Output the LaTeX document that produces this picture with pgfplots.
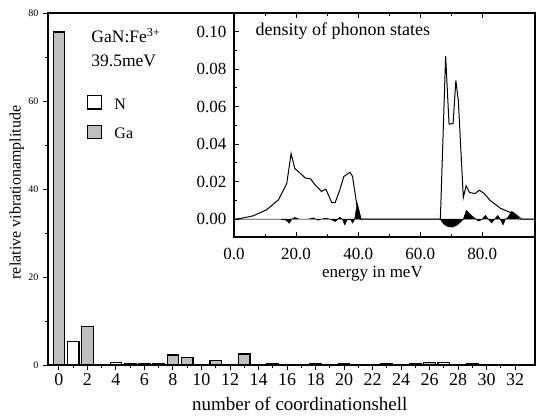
\documentclass[border=0pt]{standalone}
\usepackage{fontspec}
\setmainfont{Liberation Serif}
\usepackage{pgfplots}
\pgfplotsset{compat=1.18}
\newcommand\fsX{\fontsize{19}{22}\selectfont}
\newcommand\fsT{\fontsize{18}{21}\selectfont}
\newcommand\fsA{\fontsize{17.5}{20}\selectfont}
\newcommand\fsB{\fontsize{16}{19}\selectfont}
\newcommand\fsI{\fontsize{17}{20}\selectfont}
\newcommand\fsS{\fontsize{10}{12}\selectfont}
\begin{document}
\begin{tikzpicture}
\useasboundingbox (-48pt,-50pt) rectangle (492pt,365pt);
\begin{axis}[
  at={(0pt,0pt)}, anchor=south west,
  scale only axis, width=487pt, height=352pt,
  xmin=-0.77, xmax=33.4, ymin=0, ymax=80,
  axis line style={line width=1.2pt},
  every tick/.style={black, line width=1pt},
  tick align=outside, major tick length=5pt, minor tick length=3pt,
  xtick={0,2,...,32}, minor x tick num=1,
  ytick={0,20,...,80}, minor y tick num=1,
  xtick pos=left, ytick pos=left,
  /pgf/number format/assume math mode=true,
  x tick label style={font=\fsT},
  y tick label style={font=\fsS, xshift=-1pt},
  xlabel={number of coordinationshell},
  ylabel={relative vibrationamplitude},
  xlabel style={font=\fsX, at={(axis description cs:0.517,-0.111)}, anchor=center},
  ylabel style={font=\fsB, at={(axis description cs:-0.064,0.49)}, anchor=center},
  ybar, bar width=11.4pt, bar shift=0pt,
  legend image code/.code={\draw[#1, line width=1.3pt] (0pt,-4.5pt) rectangle (14pt,9pt);},
  legend style={draw=none, fill=none, font=\fsB, at={(rel axis cs:0.08,0.768)}, anchor=north west, inner sep=0pt, row sep=12pt, column sep=10pt},
  legend cell align=left,
]
\addplot[draw=black, fill=white, line width=1.3pt] coordinates {
(1,5.3) (3,0.1) (4,0.6) (6,0.2) (7,0.3) (10,0.1) (12,0.1) (14,0.15) (16,0.15) (17,0.1) (19,0.15) (21,0.15) (22,0.1) (24,0.15) (25,0.2) (27,0.5) (28,0.15) (30,0.15) (31,0.1) (33,0.1)};
\addlegendentry{N}
\addplot[draw=black, fill=black!25, line width=1.3pt] coordinates {
(0,75.7) (2,8.7) (5,0.4) (8,2.3) (9,1.7) (11,1.1) (13,2.5) (15,0.2) (18,0.2) (20,0.25) (23,0.2) (26,0.6) (29,0.2) (32,0.15)};
\addlegendentry{Ga}
\node[font=\fsA, anchor=west] at (rel axis cs:0.082,0.935) {GaN:Fe\textsuperscript{3+}};
\node[font=\fsA, anchor=west] at (rel axis cs:0.082,0.864) {39.5meV};
\end{axis}
\begin{axis}[
  at={(186pt,128pt)}, anchor=south west,
  scale only axis, width=301pt, height=224pt,
  xmin=0, xmax=97, ymin=-0.0095, ymax=0.110,
  axis background/.style={fill=white},
  axis line style={line width=1.2pt},
  every tick/.style={black, line width=1pt},
  tick align=inside, major tick length=5pt, minor tick length=3pt,
  xtick={0,20,...,80}, minor x tick num=1,
  ytick={0,0.02,...,0.1}, minor y tick num=1,
  xtick pos=both, ytick pos=left,
  /pgf/number format/assume math mode=true,
  xticklabel style={font=\fsI, yshift=-8pt, /pgf/number format/.cd, fixed, fixed zerofill, precision=1},
  yticklabel style={font=\fsI, xshift=-4pt, /pgf/number format/.cd, fixed, fixed zerofill, precision=2},
  scaled y ticks=false,
  xlabel={energy in meV},
  xlabel style={font=\fsI, at={(axis description cs:0.46,-0.163)}, anchor=center},
]
\addplot[fill=black, draw=black, line width=0.6pt] coordinates {
(0,0) (15,0) (16.8,-0.0005) (17.8,-0.0021) (18.6,0) (19.6,0.0009) (21,0) (24,0) (25.6,0.0007) (26.4,0) (27.2,-0.0005) (28,0) (29.6,0.0005) (31,0) (32.6,-0.0012) (33.4,0) (34.1,0.001) (34.9,0) (35.7,-0.003) (36.5,0) (37.1,-0.0004) (37.6,0) (38.2,-0.002) (38.9,0) (39.7,0.0085) (41,0)
(66.5,0) (67.5,-0.0025) (69,-0.004) (70.5,-0.0042) (72,-0.003) (73.9,0) (74.9,0.0046) (76.5,0.002) (78,0) (78.8,-0.001) (80,0) (81,0.002) (82,0) (83,-0.002) (84,0) (85,0.002) (85.8,0) (86.7,-0.003) (87.5,0) (88.3,0.001) (89.5,0.0041) (90.5,0.003) (92,0) (97,0)} -- cycle;
\addplot[draw=black, line width=1pt] coordinates {
(0,0) (1.9,0.0003) (6.2,0.0018) (10.5,0.005) (14.3,0.0103) (17.0,0.019) (18.4,0.035) (19.6,0.027) (21.3,0.0246) (22.9,0.022) (24.7,0.0215) (26.1,0.0183) (28.2,0.0148) (29.6,0.016) (30.4,0.013) (31.5,0.0089) (32.6,0.0089) (34.1,0.0157) (35.4,0.0228) (37.4,0.025) (38.2,0.0228) (39.5,0.0085) (40.6,0) (66.5,0) (68.2,0.087) (69.3,0.0507) (70.6,0.051) (71.5,0.074) (72.3,0.063) (73.9,0.0116) (74.8,0.0178) (75.9,0.0142) (77.7,0.0137) (79.1,0.0155) (80.6,0.0137) (82.5,0.0101) (85.8,0.0059) (89.0,0.0036) (90.6,0.0027) (92.7,0) (97,0)};
\node[font=\fsT, anchor=west] at (rel axis cs:0.06,0.92) {density of phonon states};
\end{axis}
\end{tikzpicture}
\end{document}
